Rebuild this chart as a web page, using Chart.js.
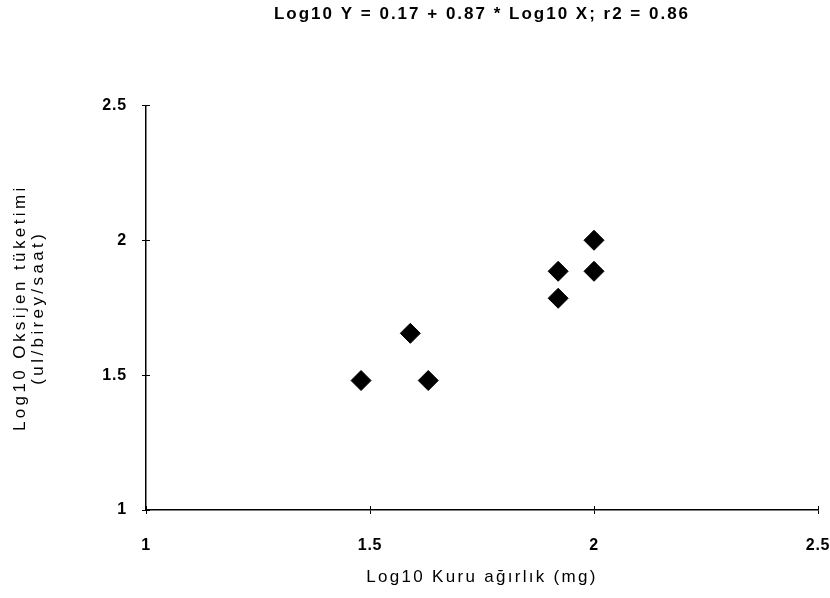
<!DOCTYPE html>
<html>
<head>
<meta charset="utf-8">
<script src="https://cdn.jsdelivr.net/npm/chart.js@4/dist/chart.umd.min.js"></script>
<style>
html,body{margin:0;padding:0;background:#fff;}
#wrap{width:830px;height:598px;}
</style>
</head>
<body>
<div id="wrap"><canvas id="c" width="830" height="598"></canvas></div>
<script>
const chartTitle = 'Log10 Y = 0.17 + 0.87 * Log10 X; r2 = 0.86';
const xAxisTitle = 'Log10 Kuru ağırlık (mg)';
const yAxisTitle = ['Log10 Oksijen tüketimi', '(ul/birey/saat)'];
const xValues = [1.48, 1.59, 1.63, 1.92, 1.92, 2.00, 2.00];
const yValues = [1.48, 1.655, 1.48, 1.885, 1.785, 2.00, 1.885];
const axisMin = 1, axisMax = 2.5, axisStep = 0.5;

const points = xValues.map((x, i) => ({x: x, y: yValues[i]}));
const FONT = "'Liberation Sans', Arial, sans-serif";

function withSpacing(obj, method, sp) {
  const orig = obj[method];
  obj[method] = function () {
    const ctx = this.ctx;
    const prev = ctx.letterSpacing;
    ctx.letterSpacing = sp;
    try { return orig.apply(this, arguments); } finally { ctx.letterSpacing = prev || '0px'; }
  };
}

const spacingPlugin = {
  id: 'spacing',
  afterLayout(chart) {
    if (chart.$spaced) return;
    chart.$spaced = true;
    withSpacing(chart.titleBlock, 'draw', '2px');
    const xs = chart.scales.x, ys = chart.scales.y;
    withSpacing(xs, 'drawLabels', '0.8px');
    withSpacing(ys, 'drawLabels', '0.8px');
    withSpacing(xs, 'drawTitle', '2.3px');
    withSpacing(ys, 'drawTitle', '3.4px');
  }
};

const innerTicks = {
  id: 'innerTicks',
  afterDraw(chart) {
    const ctx = chart.ctx, xs = chart.scales.x, ys = chart.scales.y;
    ctx.save();
    ctx.strokeStyle = '#000';
    ctx.lineWidth = 1;
    for (let v = axisMin; v <= axisMax + 1e-9; v += axisStep) {
      const px = Math.round(xs.getPixelForValue(v)) + 0.5;
      ctx.beginPath(); ctx.moveTo(px, ys.bottom); ctx.lineTo(px, ys.bottom - 4); ctx.stroke();
      const py = Math.round(ys.getPixelForValue(v)) + 0.5;
      ctx.beginPath(); ctx.moveTo(xs.left, py); ctx.lineTo(xs.left + 4, py); ctx.stroke();
    }
    ctx.restore();
  }
};

new Chart(document.getElementById('c'), {
  type: 'scatter',
  data: {
    datasets: [{
      data: points,
      pointStyle: 'rectRot',
      pointRadius: 10,
      pointHoverRadius: 10,
      backgroundColor: '#000',
      borderColor: '#000',
      borderWidth: 1
    }]
  },
  options: {
    responsive: false,
    animation: false,
    devicePixelRatio: 1,
    layout: {padding: {left: 0, right: 12, top: 0, bottom: 0}},
    plugins: {
      legend: {display: false},
      tooltip: {enabled: false},
      title: {
        display: true,
        text: chartTitle,
        fullSize: false,
        color: '#000',
        font: {family: FONT, size: 17, weight: 'bold'},
        padding: {top: 4, bottom: 81}
      }
    },
    scales: {
      x: {
        type: 'linear',
        min: axisMin, max: axisMax,
        afterFit(s) { s.height = 88; s.paddingLeft = 0; s.paddingRight = 0; },
        ticks: {stepSize: axisStep, color: '#000', padding: 22, maxRotation: 0,
          callback: v => String(v),
          font: {family: FONT, size: 16, weight: 'bold'}},
        grid: {drawOnChartArea: false, drawTicks: true, tickLength: 4, color: '#000'},
        border: {display: true, color: '#000', width: 1.5},
        title: {display: true, text: xAxisTitle, color: '#000',
          font: {family: FONT, size: 17}, padding: {top: 8, bottom: 10}}
      },
      y: {
        type: 'linear',
        min: axisMin, max: axisMax,
        afterFit(s) { s.width = 146; s.paddingTop = 0; s.paddingBottom = 0; },
        ticks: {stepSize: axisStep, color: '#000', padding: 15,
          callback: v => String(v),
          font: {family: FONT, size: 16, weight: 'bold'}},
        grid: {drawOnChartArea: false, drawTicks: true, tickLength: 4, color: '#000'},
        border: {display: true, color: '#000', width: 1.5},
        title: {display: true, text: yAxisTitle, color: '#000',
          font: {family: FONT, size: 17, lineHeight: 1.08}, padding: {top: 11, bottom: 0}}
      }
    }
  },
  plugins: [spacingPlugin, innerTicks]
});
</script>
</body>
</html>
